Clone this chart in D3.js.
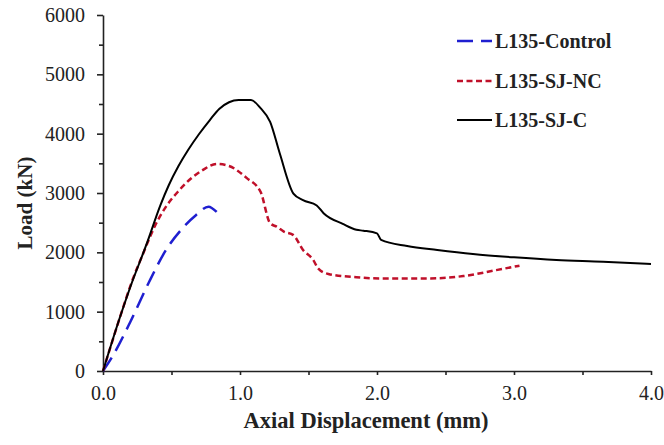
<!DOCTYPE html>
<html>
<head>
<meta charset="utf-8">
<script src="https://cdn.jsdelivr.net/npm/d3@7"></script>
<style>
  body { margin: 0; background: #fff; }
</style>
</head>
<body>
<div id="chart"></div>
<script>
// displacement (mm), load (kN)
var controlX = [0, 0.07, 0.2, 0.33, 0.46, 0.59, 0.68, 0.77, 0.83];
var controlY = [0, 250, 830, 1470, 2040, 2430, 2630, 2770, 2680];

var ncX = [0, 0.13, 0.21, 0.3, 0.38, 0.46, 0.55, 0.64, 0.73, 0.83, 0.92, 1.05, 1.15, 1.22, 1.27, 1.32, 1.39, 1.46, 1.535, 1.57, 1.645, 1.85, 2.02, 2.39, 2.63, 2.87, 3.04];
var ncY = [0, 950, 1500, 2020, 2450, 2770, 3030, 3240, 3390, 3490, 3455, 3250, 3020, 2490, 2430, 2350, 2290, 2040, 1870, 1730, 1635, 1580, 1560, 1560, 1600, 1700, 1775];

var cX = [0, 0.12, 0.2, 0.32, 0.42, 0.48, 0.55, 0.62, 0.7, 0.78, 0.85, 0.92, 0.99, 1.08, 1.15, 1.22, 1.29, 1.39, 1.46, 1.56, 1.61, 1.75, 1.85, 1.9, 2.0, 2.03, 2.22, 2.44, 2.7, 3.0, 3.31, 3.65, 4.0];
var cY = [0, 880, 1420, 2150, 2800, 3130, 3450, 3720, 3990, 4230, 4420, 4530, 4567, 4567, 4430, 4200, 3670, 2990, 2880, 2790, 2660, 2480, 2380, 2365, 2320, 2210, 2107, 2040, 1972, 1916, 1871, 1843, 1803];

var seriesNames = ["L135-Control", "L135-SJ-NC", "L135-SJ-C"];
var xTicks = [0, 0.5, 1, 1.5, 2, 2.5, 3, 3.5, 4];
var yTicks = [0, 1000, 2000, 3000, 4000, 5000, 6000];
var yMinor = [500, 1500, 2500, 3500, 4500, 5500];

var width = 664, height = 445;
var font = "Liberation Serif";

var series = [
  { name: seriesNames[0], xs: controlX, ys: controlY, color: "#1f1fd0", dash: "16,8", w: 2.5 },
  { name: seriesNames[1], xs: ncX, ys: ncY, color: "#c0102a", dash: "6,3.5", w: 2.5 },
  { name: seriesNames[2], xs: cX, ys: cY, color: "#000", dash: null, w: 2 }
];

var svg = d3.select("#chart").append("svg").attr("width", width).attr("height", height);

var x = d3.scaleLinear().domain([0, 4]).range([103, 651]);
var y = d3.scaleLinear().domain([0, 6000]).range([371, 15]);

// y axis: minor then major ticks
svg.append("g").attr("transform", "translate(103,0)")
  .call(d3.axisLeft(y).tickValues(yMinor).tickSize(4).tickFormat(""))
  .call(g => g.select(".domain").remove());
svg.append("g").attr("transform", "translate(103,0)")
  .call(d3.axisLeft(y).tickValues(yTicks).tickSize(6).tickSizeOuter(0).tickPadding(12).tickFormat(d3.format("d")));

svg.append("g").attr("transform", "translate(0,371)")
  .call(d3.axisBottom(x).tickValues(xTicks).tickSize(4).tickSizeOuter(0).tickPadding(11)
    .tickFormat(d => d % 1 === 0 ? d3.format(".1f")(d) : ""));

svg.selectAll("g").attr("font-family", font);
svg.selectAll(".tick text").attr("font-size", 20).attr("fill", "#222");
svg.selectAll(".domain, .tick line").attr("stroke", "#222").attr("stroke-width", 1.6);

var line = d3.line().x(d => x(d[0])).y(d => y(d[1])).curve(d3.curveMonotoneX);

series.forEach(function(s) {
  var pts = s.xs.map((v, i) => [v, s.ys[i]]);
  svg.append("path")
    .attr("d", line(pts))
    .attr("fill", "none")
    .attr("stroke", s.color)
    .attr("stroke-width", s.w)
    .attr("stroke-dasharray", s.dash);
});

// axis titles
svg.append("text").attr("x", 366).attr("y", 428).attr("text-anchor", "middle")
  .attr("font-family", font).attr("font-size", 22.5).attr("font-weight", "bold").attr("fill", "#222")
  .text("Axial Displacement (mm)");
svg.append("text").attr("transform", "translate(32,203) rotate(-90)").attr("text-anchor", "middle")
  .attr("font-family", font).attr("font-size", 21).attr("font-weight", "bold").attr("fill", "#222")
  .text("Load (kN)");

// legend
var legend = svg.append("g");
series.forEach(function(s, i) {
  var ly = [41, 81, 120][i];
  legend.append("line").attr("x1", 457).attr("x2", 492).attr("y1", ly).attr("y2", ly)
    .attr("stroke", s.color).attr("stroke-width", s.w).attr("stroke-dasharray", s.dash);
  legend.append("text").attr("x", 495).attr("y", ly + 7)
    .attr("font-family", font).attr("font-size", 20).attr("font-weight", "bold").attr("fill", "#222")
    .text(s.name);
});
</script>
</body>
</html>
